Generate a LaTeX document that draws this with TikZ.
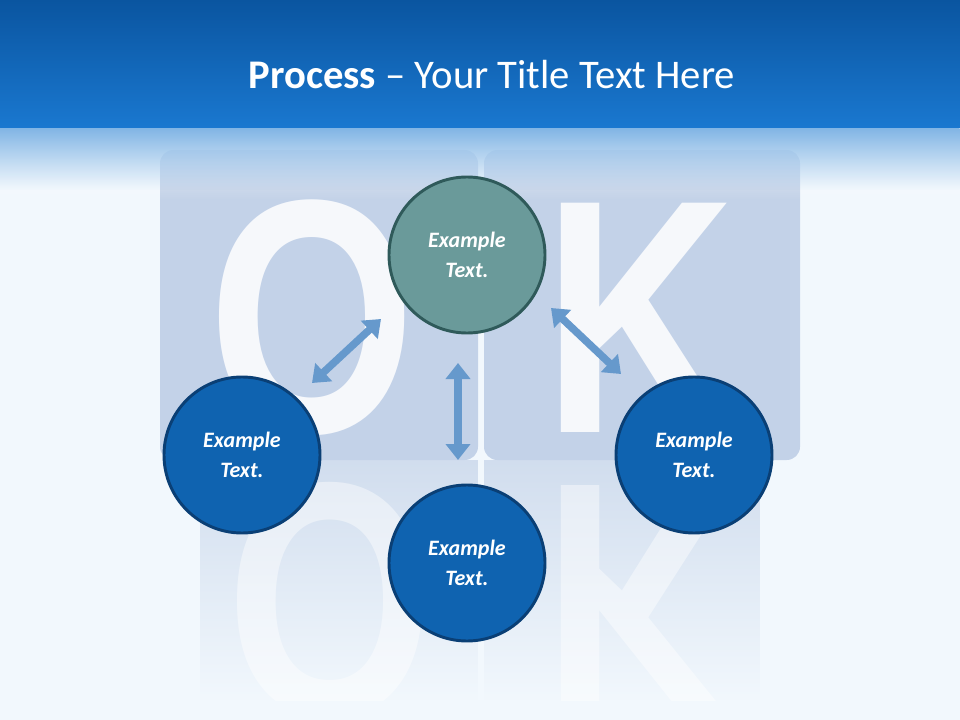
\documentclass[tikz,border=0pt]{standalone}
\usepackage{fontspec}
\setmainfont{Carlito}
\newfontfamily\bigfont{Liberation Sans}
\usetikzlibrary{arrows.meta,fadings}
\definecolor{bgc}{HTML}{F2F8FD}
\definecolor{topd}{HTML}{0A55A0}
\definecolor{topl}{HTML}{1A78D0}
\definecolor{cube}{HTML}{C3D2E8}
\definecolor{teal}{HTML}{6A9A9A}
\definecolor{tealb}{HTML}{2F5A5A}
\definecolor{blu}{HTML}{0F63B0}
\definecolor{blub}{HTML}{0A3F75}
\definecolor{arr}{HTML}{6699CC}
\tikzfading[name=fadedown, top color=transparent!0, bottom color=transparent!100]
\tikzfading[name=fadeup, top color=transparent!30, bottom color=transparent!100]
\tikzset{
 circ/.style={circle,minimum size=156*0.75pt,line width=2.2pt,draw=blub,fill=blu,text=white,
   font=\fontsize{16.5}{22}\selectfont\bfseries\itshape,align=center,inner sep=0pt},
 tcirc/.style={circ,draw=tealb,fill=teal},
 dbl/.style={arr,line width=7.5*0.75pt,{Triangle[width=24*0.75pt,length=16*0.75pt]}-{Triangle[width=24*0.75pt,length=16*0.75pt]}},
 letter/.style={text=white,font=\bigfont\fontsize{250}{250}\selectfont\bfseries,inner sep=0pt,xscale=0.8}
}
\begin{document}
\begin{tikzpicture}[x=0.75pt,y=-0.75pt]
\useasboundingbox (0,0) rectangle (960,720);
\fill[bgc] (0,0) rectangle (960,720);
% cubes
\fill[cube,rounded corners=10] (160,150) rectangle (478,460);
\fill[cube,rounded corners=10] (484,150) rectangle (800,460);
\node[letter,opacity=0.85] (lo) at (312,318) {O};
\node[letter,opacity=0.85] (lk) at (640,318) {K};
\begin{scope}
\clip (190,460) rectangle (770,700);
\fill[cube,path fading=fadeup] (200,460) rectangle (478,700);
\fill[cube,path fading=fadeup] (484,460) rectangle (760,700);
\node[letter,opacity=0.45,yscale=-1] (ro) at (330,600) {O};
\node[letter,opacity=0.45,yscale=-1] (rk) at (640,600) {K};
\end{scope}
% top band
\fill[white,path fading=fadedown,opacity=0.85] (0,128) rectangle (960,200);
\shade[top color=topd,bottom color=topl] (0,0) rectangle (960,128);
\shade[top color=topl!55!white,bottom color=topl!55!white,path fading=fadedown] (0,128) rectangle (960,190);
\node[text=white,font=\fontsize{30.5}{34}\selectfont] (title) at (492,75) {\textbf{Process} – Your Title Text Here};
% circles
\node[tcirc] (c1) at (467,255) {Example\\Text.};
\node[circ] (c2) at (242,455) {Example\\Text.};
\node[circ] (c3) at (467,563) {Example\\Text.};
\node[circ] (c4) at (694,455) {Example\\Text.};
\coordinate (a1) at (312,383); \coordinate (a2) at (381,319);
\coordinate (b1) at (458,363); \coordinate (b2) at (458,460);
\coordinate (d1) at (551,308); \coordinate (d2) at (621,374);
\draw[dbl] (a1) -- (a2);
\draw[dbl] (b1) -- (b2);
\draw[dbl] (d1) -- (d2);
\end{tikzpicture}
\end{document}
